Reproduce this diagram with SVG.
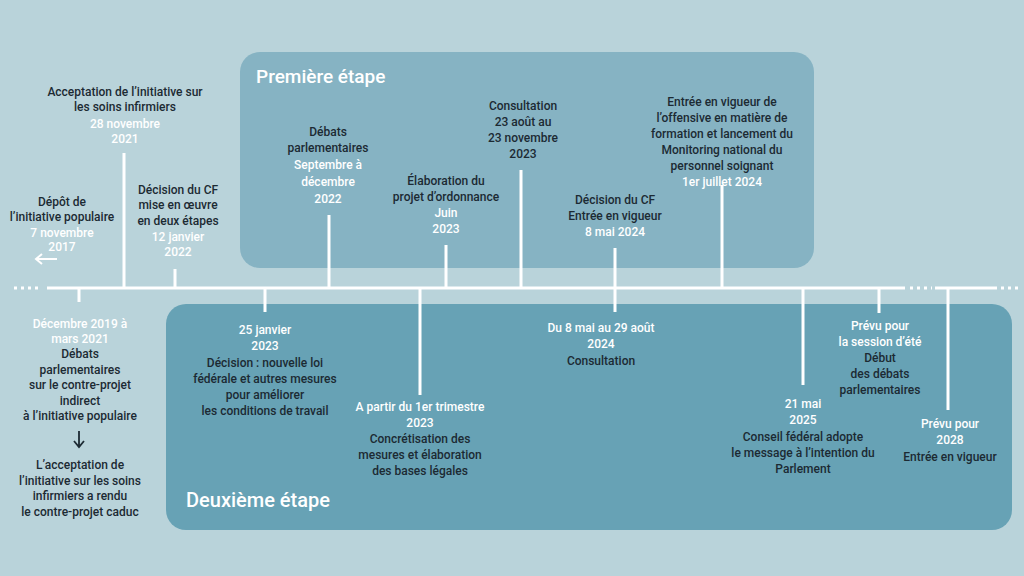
<svg xmlns="http://www.w3.org/2000/svg" width="1024" height="576" viewBox="0 0 1024 576">
<style>
text{font-family:Roboto,"Liberation Sans",sans-serif;font-size:12px;text-anchor:middle;fill:#1c2a33;font-weight:500}
.w{fill:#ffffff}
.t{font-size:19px;fill:#ffffff;text-anchor:start;font-weight:500}
.l{stroke:#ffffff;stroke-width:3;fill:none}
.d{stroke:#ffffff;stroke-width:3;stroke-dasharray:3 4;fill:none}
</style>
<rect width="1024" height="576" fill="#b9d3da"/>
<g id="panel1"><rect x="240" y="52" width="574" height="216" rx="20" fill="#86b3c3"/><text class="t" x="256" y="83">Première étape</text></g>
<g id="panel2"><rect x="166" y="304" width="846" height="226" rx="20" fill="#67a2b5"/><text class="t" x="186" y="507" style="font-size:20px">Deuxième étape</text></g>
<g id="connectors">
<line class="d" x1="14" y1="288" x2="40" y2="288"/>
<line class="l" x1="47" y1="288" x2="905" y2="288"/>
<line class="d" x1="910" y1="288" x2="932" y2="288"/>
<line class="l" x1="935" y1="288" x2="997" y2="288"/>
<line class="d" x1="1001" y1="288" x2="1022" y2="288"/>
<path class="l" d="M79 288V302M124 288V153M175 288V269M265 288V312M329 288V215M420 288V395M446 288V245M521 288V170M615 248V312M722 288V185M803 288V385M879 288V313M948 288V410"/>
<path d="M57 259H36M42 254L36 259L42 264" stroke="#fff" stroke-width="2" fill="none"/>
<path d="M79 431V446M74 441L79 447L84 441" stroke="#1c2a33" stroke-width="1.8" fill="none"/>
</g>
<g id="n1"><text x="125" y="96">Acceptation de l’initiative sur</text><text x="125" y="111">les soins infirmiers</text><text class="w" x="125" y="128">28 novembre</text><text class="w" x="125" y="143">2021</text></g>
<g id="n2"><text x="62" y="206">Dépôt de</text><text x="62" y="221">l’initiative populaire</text><text class="w" x="62" y="237">7 novembre</text><text class="w" x="62" y="251">2017</text></g>
<g id="n3"><text x="178" y="194">Décision du CF</text><text x="178" y="209">mise en œuvre</text><text x="178" y="225">en deux étapes</text><text class="w" x="178" y="241">12 janvier</text><text class="w" x="178" y="256">2022</text></g>
<g id="n4"><text x="328" y="136">Débats</text><text x="328" y="152">parlementaires</text><text class="w" x="328" y="169">Septembre à</text><text class="w" x="328" y="186">décembre</text><text class="w" x="328" y="203">2022</text></g>
<g id="n5"><text x="446" y="185">Élaboration du</text><text x="446" y="201">projet d’ordonnance</text><text class="w" x="446" y="217">Juin</text><text class="w" x="446" y="233">2023</text></g>
<g id="n6"><text x="523" y="110">Consultation</text><text x="523" y="126">23 août au</text><text x="523" y="142">23 novembre</text><text x="523" y="158">2023</text></g>
<g id="n7"><text x="615" y="204">Décision du CF</text><text x="615" y="220">Entrée en vigueur</text><text class="w" x="615" y="236">8  mai 2024</text></g>
<g id="n8"><text x="722" y="106">Entrée en vigueur de</text><text x="722" y="122">l’offensive en matière de</text><text x="722" y="138">formation et lancement du</text><text x="722" y="154">Monitoring national du</text><text x="722" y="170">personnel soignant</text><text class="w" x="722" y="186">1er juillet 2024</text></g>
<g id="n9"><text class="w" x="80" y="328">Décembre 2019 à</text><text class="w" x="80" y="343">mars 2021</text><text x="80" y="358">Débats</text><text x="80" y="374">parlementaires</text><text x="80" y="389">sur le contre-projet</text><text x="80" y="405">indirect</text><text x="80" y="420">à l’initiative populaire</text><text x="80" y="469">L’acceptation de</text><text x="80" y="485">l’initiative  sur les soins</text><text x="80" y="500">infirmiers a rendu</text><text x="80" y="516">le contre-projet caduc</text></g>
<g id="n10"><text class="w" x="265" y="334">25 janvier</text><text class="w" x="265" y="350">2023</text><text x="265" y="367">Décision : nouvelle loi</text><text x="265" y="383">fédérale et autres mesures</text><text x="265" y="399">pour améliorer</text><text x="265" y="415">les conditions de travail</text></g>
<g id="n11"><text class="w" x="420" y="411">A partir du 1er trimestre</text><text class="w" x="420" y="427">2023</text><text x="420" y="443">Concrétisation des</text><text x="420" y="459">mesures et élaboration</text><text x="420" y="475">des bases légales</text></g>
<g id="n12"><text class="w" x="601" y="332">Du 8 mai au 29 août</text><text class="w" x="601" y="348">2024</text><text x="601" y="365">Consultation</text></g>
<g id="n13"><text class="w" x="803" y="408">21 mai</text><text class="w" x="803" y="424">2025</text><text x="803" y="441">Conseil fédéral adopte</text><text x="803" y="457">le message à l’intention du</text><text x="803" y="473">Parlement</text></g>
<g id="n14"><text class="w" x="880" y="330">Prévu pour</text><text class="w" x="880" y="346">la session d’été</text><text x="880" y="362">Début</text><text x="880" y="378">des débats</text><text x="880" y="394">parlementaires</text></g>
<g id="n15"><text class="w" x="950" y="428">Prévu pour</text><text class="w" x="950" y="444">2028</text><text x="950" y="461">Entrée en vigueur</text></g>
</svg>
